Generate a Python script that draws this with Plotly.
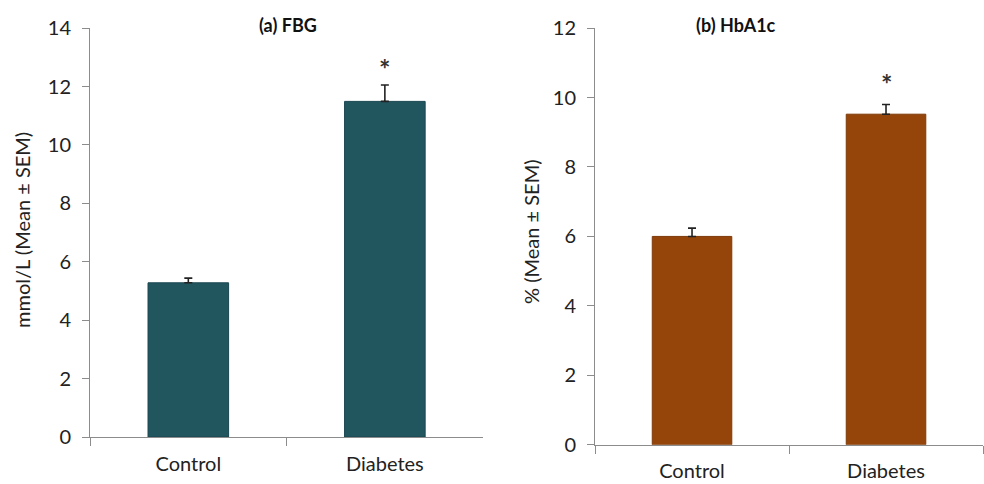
import plotly.graph_objects as go

categories = ["Control", "Diabetes"]
fbg_mean = [5.28, 11.49]
fbg_sem = [0.16, 0.56]
hba1c_mean = [6.00, 9.52]
hba1c_sem = [0.24, 0.28]
sig_marker = ["", "*"]

FONT = "Lato"
c_fbg = "#22565F"
c_hba = "#95450A"

fig = go.Figure()
fig.add_trace(go.Bar(
    x=categories, y=fbg_mean, xaxis="x", yaxis="y",
    marker=dict(color=c_fbg, line=dict(color="#1A4650", width=1)),
    error_y=dict(type="data", symmetric=False, array=fbg_sem,
                 arrayminus=[0, 0], color="#222222", thickness=1.6, width=4),
    showlegend=False))
fig.add_trace(go.Bar(
    x=categories, y=hba1c_mean, xaxis="x2", yaxis="y2",
    marker=dict(color=c_hba, line=dict(color="#7E3A08", width=1)),
    error_y=dict(type="data", symmetric=False, array=hba1c_sem,
                 arrayminus=[0, 0], color="#222222", thickness=1.6, width=4),
    showlegend=False))

# significance asterisks
for i, s in enumerate(sig_marker):
    if s:
        fig.add_annotation(x=categories[i], y=fbg_mean[i] + fbg_sem[i] + 0.55,
                           xref="x", yref="y", text="<b>" + s + "</b>", showarrow=False,
                           font=dict(family=FONT, size=27, color="#333333"))
        fig.add_annotation(x=categories[i], y=hba1c_mean[i] + hba1c_sem[i] + 0.6,
                           xref="x2", yref="y2", text="<b>" + s + "</b>", showarrow=False,
                           font=dict(family=FONT, size=27, color="#333333"))

axis_common = dict(showline=True, linecolor="#8C8C8C", linewidth=1,
                   ticks="outside", tickcolor="#8C8C8C",
                   showgrid=False, zeroline=False, automargin=False,
                   tickfont=dict(family=FONT, size=20, color="#222222"))

fig.update_layout(
    width=984, height=484,
    margin=dict(l=0, r=0, t=0, b=0, autoexpand=False),
    paper_bgcolor="white", plot_bgcolor="white",
    bargap=0.59,
    xaxis=dict(domain=[0.0915, 0.491], anchor="y", range=[-0.5, 1.5],
               tickson="boundaries", ticklen=8, ticklabelstandoff=9, **axis_common),
    yaxis=dict(domain=[0.097, 0.942], anchor="x", range=[0, 14], dtick=2, ticklen=7,
               ticklabelstandoff=7, **axis_common),
    xaxis2=dict(domain=[0.6047, 0.999], anchor="y2", range=[-0.5, 1.5],
                tickson="boundaries", ticklen=8, ticklabelstandoff=8, **axis_common),
    yaxis2=dict(domain=[0.081, 0.942], anchor="x2", range=[0, 12], dtick=2, ticklen=7,
                ticklabelstandoff=7, **axis_common),
)

# axis titles
fig.add_annotation(x=22 / 984, y=1 - 230 / 484, xref="paper", yref="paper",
                   text="mmol/L (Mean ± SEM)", textangle=-90, showarrow=False,
                   xanchor="center", yanchor="middle",
                   font=dict(family=FONT, size=20, color="#222222"))
fig.add_annotation(x=531 / 984, y=1 - 232 / 484, xref="paper", yref="paper",
                   text="% (Mean ± SEM)", textangle=-90, showarrow=False,
                   xanchor="center", yanchor="middle",
                   font=dict(family=FONT, size=20, color="#222222"))

# panel titles
fig.add_annotation(x=257 / 984, y=1 - 25 / 484, xref="paper", yref="paper", text="<b>(a) FBG</b>",
                   showarrow=False, yanchor="middle",
                   font=dict(family=FONT, size=18, color="#111111"))
fig.add_annotation(x=778 / 984, y=1 - 25 / 484, xref="paper", yref="paper", text="<b>(b) HbA1c</b>",
                   showarrow=False, yanchor="middle",
                   font=dict(family=FONT, size=18, color="#111111"))

fig.write_html("out.html", config={"displayModeBar": False},
               post_script="document.body.style.margin='0';document.body.style.overflow='hidden';")
